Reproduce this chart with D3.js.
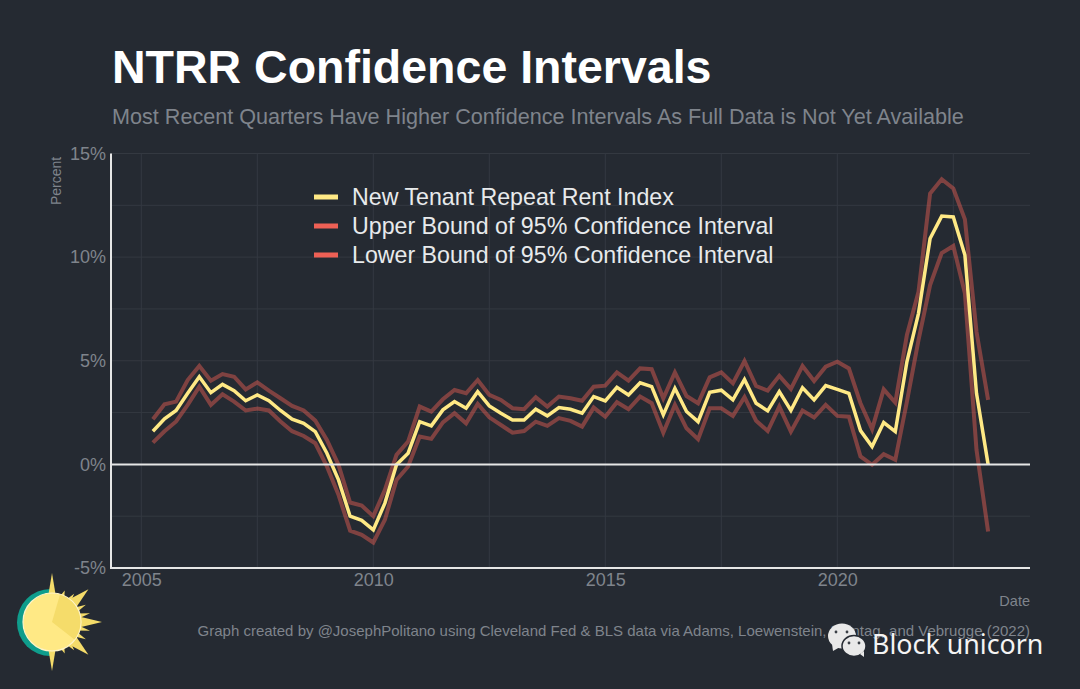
<!DOCTYPE html>
<html>
<head>
<meta charset="utf-8">
<script src="https://cdn.jsdelivr.net/npm/d3@7"></script>
<style>
html, body { margin: 0; padding: 0; background: #252a32; }
svg { display: block; }
text { font-family: "Liberation Sans", Arial, sans-serif; }
</style>
</head>
<body>
<svg id="chart" width="1080" height="689"></svg>
<script>
// quarterly, starting 2005 Q2
var startYear = 2005.25;

var ntrr = [1.6,2.2,2.6,3.43,4.23,3.46,3.86,3.56,3.07,3.35,3.07,2.6,2.18,1.98,1.58,0.54,-0.75,-2.5,-2.7,-3.16,-1.87,-0.02,0.54,2.06,
	1.86,2.63,3.03,2.71,3.51,2.82,2.47,2.14,2.14,2.66,2.34,2.74,2.66,2.47,3.27,3.06,3.72,3.35,3.94,3.75,2.39,3.67,2.55,2.06,3.48,3.58,
	3.11,4.1,2.95,2.58,3.51,2.6,3.7,3.11,3.8,3.62,3.43,1.63,0.86,2.02,1.58,4.95,7.29,10.9,11.98,11.94,10.1,3.43,0];

var upper = [2.18,2.9,3.03,4.07,4.75,4.04,4.36,4.23,3.62,3.96,3.56,3.19,2.82,2.6,2.11,1.18,-0.02,-1.84,-1.99,-2.5,-1.23,0.46,1.1,2.79,
	2.55,3.14,3.59,3.43,4.07,3.35,3.11,2.71,2.66,3.24,2.79,3.27,3.19,3.07,3.75,3.8,4.44,4.04,4.63,4.59,3.19,4.44,3.3,2.95,4.2,4.44,
	3.91,4.99,3.78,3.56,4.27,3.64,4.75,4.02,4.71,4.95,4.63,2.95,1.7,3.62,2.98,6.24,8.33,13.07,13.76,13.31,11.82,6.4,3.11];

var lower = [1.05,1.6,2.07,2.87,3.75,2.87,3.38,3.03,2.6,2.69,2.6,2.07,1.6,1.37,1.02,-0.1,-1.47,-3.2,-3.4,-3.77,-2.67,-0.75,-0.1,1.34,
	1.23,2.03,2.47,1.98,2.92,2.27,1.9,1.53,1.61,2.06,1.86,2.23,2.1,1.82,2.74,2.3,3.0,2.66,3.27,2.95,1.53,2.87,1.74,1.21,2.71,2.71,
	2.34,3.24,2.11,1.61,2.79,1.58,2.6,2.26,2.87,2.34,2.3,0.38,-0.02,0.49,0.22,3.03,6.0,8.65,10.2,10.54,8.25,0.7,-3.24];

var yTicks = [-5,0,5,10,15];
var yMinor = [-2.5,2.5,7.5,12.5];
var xTicks = [2005,2010,2015,2020];
var xMinor = [2007.5,2012.5,2017.5,2022.5];

var legendLabels = ['New Tenant Repeat Rent Index','Upper Bound of 95% Confidence Interval','Lower Bound of 95% Confidence Interval'];
var legendColors = ['#ffe985','#ee6055','#ee6055'];

var bg = '#252a32', grey = '#7f848c', gridCol = '#343941', yellow = '#ffe985', red = '#ee6055';

var svg = d3.select('#chart');

svg.append('rect').attr('width',1080).attr('height',689).attr('fill',bg);

var x = d3.scaleLinear().domain([2005,2022.5]).range([141.3,953.3]);
var y = d3.scaleLinear().domain([-5,15]).range([568,153.5]);
var left = 111, right = 1030;

//grid
var grid = svg.append('g');
yTicks.concat(yMinor).forEach(function(v){
	grid.append('line').attr('x1',left).attr('x2',right).attr('y1',y(v)).attr('y2',y(v))
		.attr('stroke',gridCol).attr('stroke-width',1);
});
xTicks.concat(xMinor).forEach(function(v){
	grid.append('line').attr('x1',x(v)).attr('x2',x(v)).attr('y1',y(15)).attr('y2',y(-5))
		.attr('stroke',gridCol).attr('stroke-width',1);
});

//axes, only the labels are used, the white lines get drawn below
var axisL = svg.append('g').attr('transform','translate('+left+',0)')
	.call(d3.axisLeft(y).tickValues(yTicks).tickSize(0).tickPadding(5).tickFormat(function(d){ return d+'%'; }));
var axisB = svg.append('g').attr('transform','translate(0,568)')
	.call(d3.axisBottom(x).tickValues(xTicks).tickSize(0).tickPadding(5).tickFormat(d3.format('d')));
axisL.select('.domain').remove();
axisB.select('.domain').remove();
svg.selectAll('.tick text').attr('fill',grey).style('font-size','18px')
	.style('font-family','"Liberation Sans", Arial, sans-serif');

//series
var line = d3.line()
	.x(function(d,i){ return x(startYear + i/4); })
	.y(function(d){ return y(d); });

[upper,lower].forEach(function(s){
	svg.append('path').attr('d',line(s)).attr('fill','none')
		.attr('stroke',red).attr('stroke-opacity',0.45).attr('stroke-width',4).attr('stroke-linejoin','miter');
});
svg.append('path').attr('d',line(ntrr)).attr('fill','none')
	.attr('stroke',yellow).attr('stroke-width',3.5).attr('stroke-linejoin','miter');

//zero line + axis lines
svg.append('line').attr('x1',left).attr('x2',right).attr('y1',y(0)).attr('y2',y(0))
	.attr('stroke','#e6e6e6').attr('stroke-width',2);
svg.append('line').attr('x1',left).attr('x2',left).attr('y1',y(15)).attr('y2',y(-5)+1)
	.attr('stroke','#e6e6e6').attr('stroke-width',2);
svg.append('line').attr('x1',left).attr('x2',right).attr('y1',y(-5)).attr('y2',y(-5))
	.attr('stroke','#e6e6e6').attr('stroke-width',2);

//legend
legendLabels.forEach(function(l,i){
	var ly = 197 + i*29;
	svg.append('rect').attr('x',314).attr('y',ly-2.5).attr('width',24).attr('height',5)
		.attr('fill',legendColors[i]);
	svg.append('text').attr('x',352).attr('y',ly+8).attr('fill','#e8eaec')
		.style('font-size','23.2px').text(l);
});

//titles
svg.append('text').attr('x',112).attr('y',83).attr('fill','#ffffff')
	.style('font-size','46.5px').style('font-weight','bold').text('NTRR Confidence Intervals');
svg.append('text').attr('x',112).attr('y',124).attr('fill',grey)
	.style('font-size','21.6px').text('Most Recent Quarters Have Higher Confidence Intervals As Full Data is Not Yet Available');
svg.append('text').attr('transform','translate(61,205) rotate(-90)').attr('fill',grey)
	.style('font-size','14px').text('Percent');
svg.append('text').attr('x',1030).attr('y',606).attr('text-anchor','end').attr('fill',grey)
	.style('font-size','14.5px').text('Date');
svg.append('text').attr('x',1030).attr('y',636).attr('text-anchor','end').attr('fill',grey)
	.style('font-size','15px').text('Graph created by @JosephPolitano using Cleveland Fed & BLS data via Adams, Loewenstein, Montag, and Vebrugge (2022)');

//sun logo
var sun = svg.append('g').attr('transform','translate(52,622)');
var rays = [[-90,49,4],[-68,34,3],[-52,36,3],[-42,49,6],[-27,38,3],[-13,39,3],[0,50,6],[13,39,3],[27,38,3],[42,49,6],[52,36,3],[68,34,3],[90,49,4]];
sun.append('path')
	.attr('d',d3.arc().innerRadius(0).outerRadius(33.5).startAngle(Math.PI).endAngle(Math.PI*2)())
	.attr('transform','translate(-1.5,0.5)').attr('fill','#0f9d8c');
rays.forEach(function(r){
	var a = r[0]*Math.PI/180, n = a+Math.PI/2;
	var pts = [[Math.cos(a)*r[1],Math.sin(a)*r[1]],
		[Math.cos(a)*25+Math.cos(n)*r[2],Math.sin(a)*25+Math.sin(n)*r[2]],
		[Math.cos(a)*25-Math.cos(n)*r[2],Math.sin(a)*25-Math.sin(n)*r[2]]];
	sun.append('polygon').attr('points',pts.join(' ')).attr('fill','#f5dc6a');
});
sun.append('circle').attr('r',29).attr('fill','#ffe985').attr('stroke','#fff4c8').attr('stroke-width',1.2);
var wedge = d3.arc().innerRadius(0).outerRadius(28.4).startAngle(Math.PI*0.09).endAngle(Math.PI*0.71);
sun.append('path').attr('d',wedge()).attr('fill','#f5dc6a');

//watermark
var wm = svg.append('g').attr('fill','#e9e9e9');
wm.append('ellipse').attr('cx',842).attr('cy',636).attr('rx',14).attr('ry',12.5);
wm.append('polygon').attr('points','832,644 833,651 840,647');
wm.append('ellipse').attr('cx',854).attr('cy',646).attr('rx',12).attr('ry',10.5).attr('stroke',bg).attr('stroke-width',1.5);
wm.append('polygon').attr('points','860,654 864,657 864,651');
[[836,632],[847,632],[849,643],[859,643]].forEach(function(p){
	svg.append('circle').attr('cx',p[0]).attr('cy',p[1]).attr('r',1.4).attr('fill','#3a3f46');
});
svg.append('text').attr('x',872).attr('y',654).attr('fill','#f4f4f4')
	.style('font-family','"Noto Sans", sans-serif').style('font-size','26.8px').text('Block unicorn');
</script>
</body>
</html>
